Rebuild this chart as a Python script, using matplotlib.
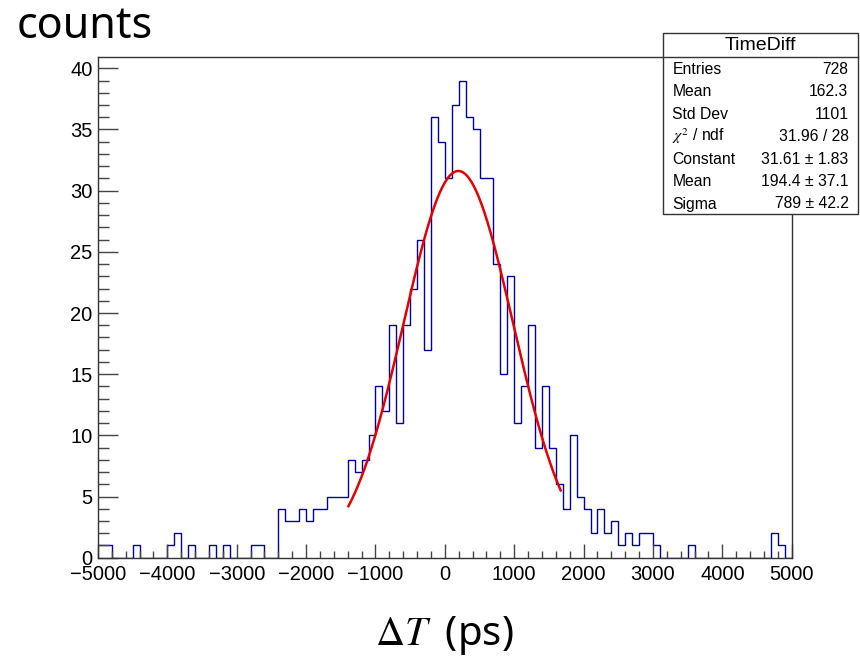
import numpy as np
import matplotlib
matplotlib.use("Agg")
import matplotlib.pyplot as plt
from matplotlib.patches import Rectangle
from matplotlib.ticker import MultipleLocator

plt.rcParams['mathtext.fontset'] = 'stix'

# ---------------- data ----------------
x_min, x_max, n_bins = -5000, 5000, 100
counts = [
    1, 1, 0, 0, 0, 1, 0, 0, 0, 0,
    1, 2, 0, 1, 0, 0, 1, 0, 1, 0,
    0, 0, 1, 1, 0, 0, 4, 3, 3, 4,
    3, 4, 4, 5, 5, 5, 8, 7, 8, 10,
    14, 12, 19, 11, 19, 22, 26, 17, 36, 34,
    31, 37, 39, 36, 35, 31, 31, 24, 15, 23,
    11, 14, 19, 9, 14, 9, 6, 4, 10, 5,
    4, 2, 4, 2, 3, 1, 2, 1, 2, 2,
    1, 0, 0, 0, 0, 1, 0, 0, 0, 0,
    0, 0, 0, 0, 0, 0, 0, 2, 1, 0,
]
fit_const, fit_mean, fit_sigma = 31.61, 194.4, 789.0
fit_range = (-1390, 1670)

stats_title = "TimeDiff"
stats_labels = ["Entries", "Mean", "Std Dev", r"$\chi^2$ / ndf", "Constant", "Mean", "Sigma"]
stats_values = ["728", "162.3", "1101", "31.96 / 28", "31.61 ± 1.83", "194.4 ± 37.1", "789 ± 42.2"]

x_label = r"$\Delta T\;$ (ps)"
y_label = "counts"

# ---------------- figure ----------------
W, H = 860, 658
fig = plt.figure(figsize=(W / 100, H / 100), dpi=100)
fx = lambda px: px / W
fy = lambda py: 1 - py / H

ax_left, ax_right, ax_top, ax_bot = 98, 791.7, 56.7, 557.7
ax = fig.add_axes([fx(ax_left), fy(ax_bot), fx(ax_right - ax_left), (ax_bot - ax_top) / H])

edges = np.linspace(x_min, x_max, n_bins + 1)
ax.stairs(counts, edges, color="#000099", lw=1.0, baseline=None)
xf = np.linspace(fit_range[0], fit_range[1], 400)
yf = fit_const * np.exp(-0.5 * ((xf - fit_mean) / fit_sigma) ** 2)
ax.plot(xf, yf, color="#e00000", lw=1.8)

ax.set_xlim(x_min, x_max)
ax.set_ylim(0, max(counts) * 1.05)

ax.xaxis.set_major_locator(MultipleLocator(1000))
ax.xaxis.set_minor_locator(MultipleLocator(200))
ax.yaxis.set_major_locator(MultipleLocator(5))
ax.yaxis.set_minor_locator(MultipleLocator(1))

tick_col = "#444444"
ax.tick_params(axis="x", which="major", direction="in", length=10, width=1, color=tick_col, pad=5.5)
ax.tick_params(axis="x", which="minor", direction="in", length=5, width=1, color=tick_col)
ax.tick_params(axis="y", which="major", direction="in", length=14.4, width=1, color=tick_col, pad=4)
ax.tick_params(axis="y", which="minor", direction="in", length=8, width=1, color=tick_col)
for lab in ax.get_xticklabels() + ax.get_yticklabels():
    lab.set_fontfamily("Liberation Sans")
    lab.set_fontsize(14.5)
for sp in ax.spines.values():
    sp.set_color("#333333")
    sp.set_linewidth(1.0)

# ---------------- stats box ----------------
bx0, bx1, by0, by1 = 663.3, 857.5, 32.7, 214.3
sep_y = 56.7
fig.add_artist(Rectangle((fx(bx0), fy(by1)), fx(bx1 - bx0), (by1 - by0) / H,
                         transform=fig.transFigure, facecolor="white",
                         edgecolor="#333333", lw=1.0, zorder=5))
fig.add_artist(plt.Line2D([fx(bx0), fx(bx1)], [fy(sep_y), fy(sep_y)],
                          transform=fig.transFigure, color="#333333", lw=1.0, zorder=6))
fig.text(fx((bx0 + bx1) / 2), fy(45.5), stats_title, ha="center", va="center",
         fontsize=14, family="Liberation Sans", zorder=7)
row0, drow = 69.3, 22.45
for i, (lab, val) in enumerate(zip(stats_labels, stats_values)):
    yy = fy(row0 + i * drow)
    fig.text(fx(672.5), yy, lab, ha="left", va="center", fontsize=11.3,
             family="Liberation Sans", zorder=7)
    fig.text(fx(848.5), yy, val, ha="right", va="center", fontsize=11.3,
             family="Liberation Sans", zorder=7)

# ---------------- axis titles ----------------
fig.text(fx(17), fy(38.5), y_label, ha="left", va="baseline", fontsize=31,
         family=["Noto Sans", "DejaVu Sans"])
fig.text(fx(444), fy(645), x_label, ha="center", va="baseline", fontsize=29,
         family=["Noto Sans", "DejaVu Sans"])

fig.savefig("out.png", dpi=100)
